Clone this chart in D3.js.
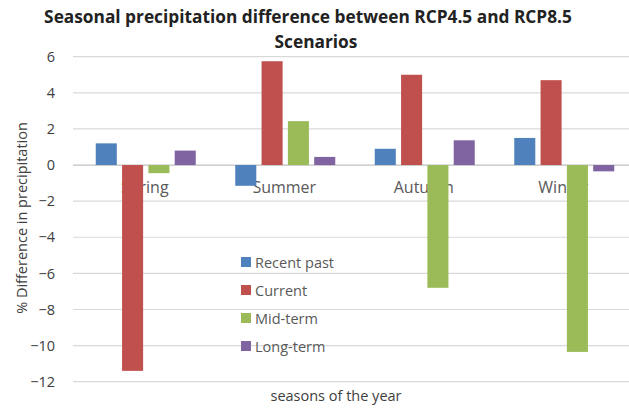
<!DOCTYPE html>
<html>
<head>
<meta charset="utf-8">
<script src="https://cdn.jsdelivr.net/npm/d3@7"></script>
<style>
  body { margin: 0; background: #fff; }
  svg text { font-family: "Open Sans", "Liberation Sans", sans-serif; }
</style>
</head>
<body>
<div class="chart"></div>
<script>
// chart data
var seasons = ["Spring", "Summer", "Autumn", "Winter"];
var seriesNames = ["Recent past", "Current", "Mid-term", "Long-term"];
var recentPast = [1.2, -1.15, 0.9, 1.5];
var current = [-11.4, 5.75, 5.0, 4.7];
var midTerm = [-0.45, 2.43, -6.8, -10.35];
var longTerm = [0.8, 0.45, 1.37, -0.35];
var yTicks = [6, 4, 2, 0, -2, -4, -6, -8, -10, -12];

var seriesColors = ["#4F81BD", "#C0504D", "#9BBB59", "#8064A2"];
var allSeries = [recentPast, current, midTerm, longTerm];

var width = 629, height = 408;
var margin = {top: 57, right: 0, bottom: 26, left: 73};

var svg = d3.select(".chart").append("svg")
    .attr("width", width)
    .attr("height", height);

// title
svg.append("text")
    .attr("x", 308).attr("y", 23)
    .attr("text-anchor", "middle")
    .attr("font-size", 17.3).attr("font-weight", "bold")
    .attr("fill", "#222")
    .text("Seasonal precipitation difference between RCP4.5 and RCP8.5");
svg.append("text")
    .attr("x", 316).attr("y", 48)
    .attr("text-anchor", "middle")
    .attr("font-size", 17.3).attr("font-weight", "bold")
    .attr("fill", "#222")
    .text("Scenarios");

// category bands run a bit past the right edge, as in the source image
var x = d3.scaleBand()
    .domain(seasons)
    .range([74, 632]);

var xInner = d3.scaleBand()
    .domain(seriesNames)
    .range([0, 100])
    .paddingInner(0.2);

var y = d3.scaleLinear()
    .domain([-12, 6])
    .range([381.7, 56.7]);

// gridlines
svg.append("g")
    .selectAll("line")
    .data(yTicks)
    .enter().append("line")
    .attr("x1", margin.left).attr("x2", width - margin.right)
    .attr("y1", function(d) { return y(d); })
    .attr("y2", function(d) { return y(d); })
    .attr("stroke", function(d) { return d === 0 ? "#bfbfbf" : "#d9d9d9"; })
    .attr("stroke-width", 1.2);

// y axis tick labels
var yAxis = svg.append("g")
    .attr("transform", "translate(58,0)")
    .call(d3.axisLeft(y).tickValues(yTicks).tickSize(0).tickFormat(d3.format("d")));
yAxis.select(".domain").remove();
yAxis.selectAll("text")
    .attr("font-size", 14.5)
    .attr("fill", "#404040")
    .style("font-family", "'Open Sans', sans-serif");

// category labels (drawn below the bars)
svg.append("g")
    .selectAll("text")
    .data(seasons)
    .enter().append("text")
    .attr("x", function(d) { return x(d) + x.bandwidth() / 2 + 1; })
    .attr("y", y(0) + 28)
    .attr("text-anchor", "middle")
    .attr("font-size", 16)
    .attr("fill", "#595959")
    .text(function(d) { return d; });

// bars
var groups = svg.append("g")
    .selectAll("g")
    .data(allSeries)
    .enter().append("g")
    .attr("fill", function(d, i) { return seriesColors[i]; });

groups.each(function(vals, si) {
  d3.select(this).selectAll("rect")
    .data(vals)
    .enter().append("rect")
    .attr("x", function(d, i) { return x(seasons[i]) + x.bandwidth() / 2 - 48 + xInner(seriesNames[si]); })
    .attr("width", xInner.bandwidth())
    .attr("y", function(d) { return y(Math.max(0, d)); })
    .attr("height", function(d) { return Math.abs(y(d) - y(0)); });
});

// legend
var legend = svg.append("g")
    .selectAll("g")
    .data(seriesNames)
    .enter().append("g")
    .attr("transform", function(d, i) { return "translate(241," + (262 + i * 28) + ")"; });
legend.append("rect")
    .attr("x", 0).attr("y", -5)
    .attr("width", 10).attr("height", 10)
    .attr("fill", function(d, i) { return seriesColors[i]; });
legend.append("text")
    .attr("x", 14).attr("y", 5.5)
    .attr("font-size", 14.5)
    .attr("fill", "#595959")
    .text(function(d) { return d; });

// axis titles
svg.append("text")
    .attr("transform", "translate(27,218) rotate(-90)")
    .attr("text-anchor", "middle")
    .attr("font-size", 14.5)
    .attr("fill", "#404040")
    .text("% Difference in precipitation");

svg.append("text")
    .attr("x", 336).attr("y", 401)
    .attr("text-anchor", "middle")
    .attr("font-size", 14.5)
    .attr("fill", "#404040")
    .text("seasons of the year");
</script>
</body>
</html>
